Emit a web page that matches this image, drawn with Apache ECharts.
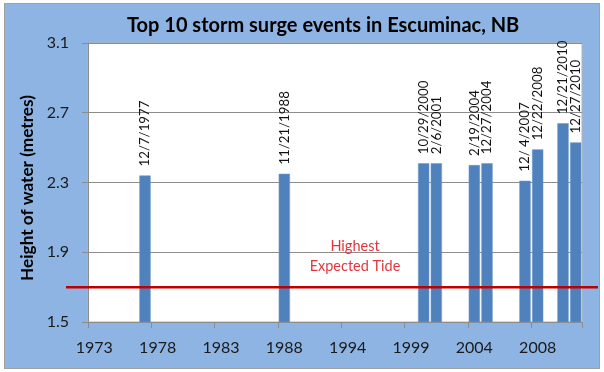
<!DOCTYPE html>
<html>
<head>
<meta charset="utf-8">
<script src="https://cdn.jsdelivr.net/npm/echarts@6/dist/echarts.min.js"></script>
<style>
  html, body { margin: 0; padding: 0; background: #ffffff; }
  #frame {
    position: absolute; left: 4px; top: 3px; width: 594px; height: 364px;
    background: #8DB4E2; border: 1px solid #a0a0a0;
  }
  #chart { position: absolute; left: 0; top: 0; width: 604px; height: 372px; }
</style>
</head>
<body>
<div id="frame"></div>
<div id="chart"></div>
<script>
// Year slots along the horizontal axis (one slot per bar position)
const yearSlots = [
  '1973', '1974', '1975', '1976', '1977', '1978', '1979', '1980', '1981', '1982',
  '1983', '1984', '1985', '1986', '1987', '1988', '1989', '1990', '1991', '1992',
  '1994', '1995', '1996', '1997', '1998', '1999', '2000', '2001', '2002', '2003',
  '2004', '2004', '2005', '2006', '2007', '2008', '2009', '2010', '2010'
];

// Storm surge events, in date order
const eventDates = [
  '12/7/1977', '11/21/1988', '10/29/2000', '2/6/2001', '2/19/2004',
  '12/27/2004', '12/ 4/2007', '12/22/2008', '12/21/2010', '12/27/2010'
];
const eventHeights = [2.34, 2.35, 2.41, 2.41, 2.40, 2.41, 2.31, 2.49, 2.64, 2.53];

// Highest expected tide (metres)
const tideLevel = 1.7;

// Vertical axis ticks (metres)
const heightTicks = [1.5, 1.9, 2.3, 2.7, 3.1];

// Place each event in the next slot carrying its year
const barValues = yearSlots.map(() => null);
const barDates = yearSlots.map(() => '');
let cursor = 0;
eventDates.forEach((d, i) => {
  const yr = d.slice(-4);
  while (cursor < yearSlots.length && yearSlots[cursor] !== yr) cursor++;
  barValues[cursor] = eventHeights[i];
  barDates[cursor] = d;
  cursor++;
});

const FONT = 'Lato';
const chart = echarts.init(document.getElementById('chart'), null, { renderer: 'canvas' });

chart.setOption({
  animation: false,
  backgroundColor: 'transparent',
  textStyle: { fontFamily: FONT },
  title: {
    text: 'Top 10 storm surge events in Escuminac, NB',
    left: 122,
    top: 11,
    textStyle: { fontFamily: FONT, fontWeight: 'bold', fontSize: 20, color: '#000' }
  },
  grid: [
    { left: 88, right: 22, top: 43, bottom: 50, show: true, backgroundColor: '#ffffff', borderColor: '#b4b4b4', borderWidth: 1 },
    { left: 66, right: 6, top: 43, bottom: 50, show: false }
  ],
  xAxis: [
    {
      type: 'category',
      gridIndex: 0,
      data: yearSlots,
      boundaryGap: true,
      axisLine: { show: true, lineStyle: { color: '#8c8c8c' } },
      axisTick: { show: true, interval: 4, length: 6, lineStyle: { color: '#8c8c8c' } },
      axisLabel: { interval: 4, margin: 18, fontSize: 16, color: '#1a1a1a', fontFamily: FONT },
      splitLine: { show: false }
    },
    { type: 'value', gridIndex: 1, min: 0, max: 1, show: false }
  ],
  yAxis: [
    {
      type: 'value',
      gridIndex: 0,
      min: heightTicks[0],
      max: heightTicks[heightTicks.length - 1],
      interval: 0.4,
      name: 'Height of water (metres)',
      nameLocation: 'middle',
      nameGap: 52,
      nameRotate: 90,
      nameTextStyle: { fontFamily: FONT, fontWeight: 'bold', fontSize: 17.2, color: '#000', padding: [0, 11, 0, 0] },
      axisLine: { show: true, lineStyle: { color: '#8c8c8c' } },
      axisTick: { show: true, length: 6, lineStyle: { color: '#8c8c8c' } },
      axisLabel: { margin: 19, fontSize: 16, color: '#1a1a1a', fontFamily: FONT,
        formatter: v => v.toFixed(1) },
      splitLine: { show: true, lineStyle: { color: '#8c8c8c', width: 1 } }
    },
    { type: 'value', gridIndex: 1, min: heightTicks[0], max: heightTicks[heightTicks.length - 1], show: false }
  ],
  series: [
    {
      type: 'bar',
      xAxisIndex: 0,
      yAxisIndex: 0,
      data: barValues,
      barCategoryGap: '11%',
      itemStyle: { color: '#4F81BD', borderColor: '#6f98c9', borderWidth: 0.6 },
      label: {
        show: true,
        position: 'top',
        rotate: 90,
        align: 'left',
        verticalAlign: 'middle',
        distance: 9,
        fontSize: 13.3,
        fontFamily: FONT,
        color: '#111',
        formatter: p => barDates[p.dataIndex]
      }
    },
    {
      type: 'line',
      xAxisIndex: 1,
      yAxisIndex: 1,
      data: [[0, tideLevel], [1, tideLevel]],
      symbol: 'none',
      z: 5,
      lineStyle: { color: '#C00000', width: 2.5 }
    }
  ],
  graphic: [
    {
      type: 'text',
      x: 355,
      y: 236,
      z: 10,
      style: {
        text: 'Highest\nExpected Tide',
        fill: '#E0363E',
        font: '14.5px Lato',
        align: 'center',
        verticalAlign: 'top',
        lineHeight: 20
      }
    }
  ]
});
</script>
</body>
</html>
